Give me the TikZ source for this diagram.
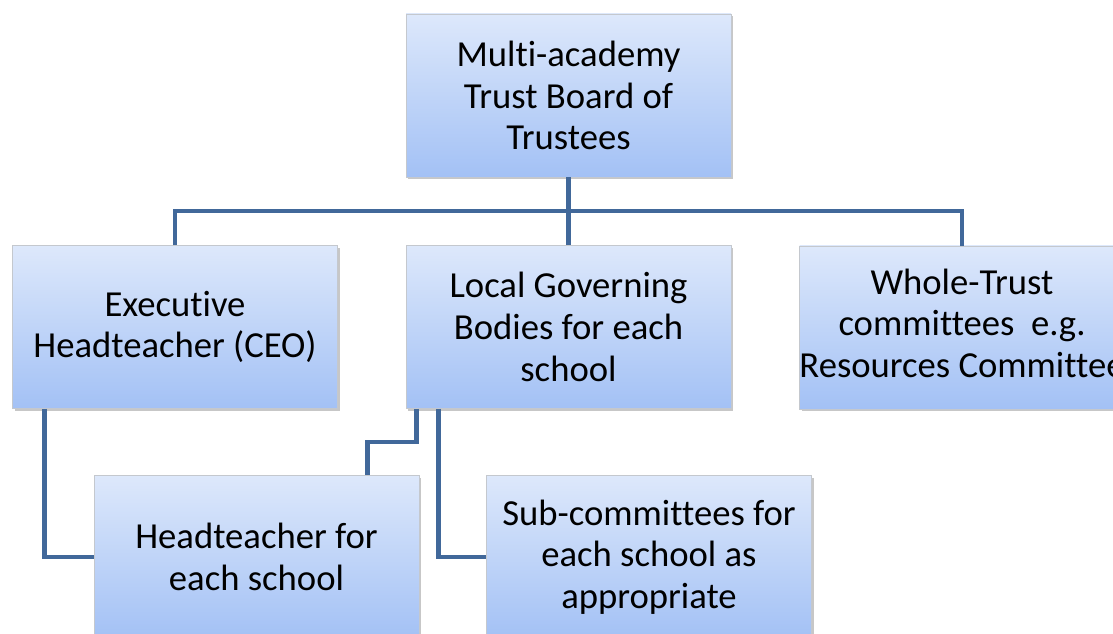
\documentclass[tikz,border=0pt]{standalone}
\usepackage{fontspec}
\setmainfont{Carlito}[Ligatures={NoCommon}]
\usetikzlibrary{shadows}
\definecolor{boxtop}{HTML}{DDE8FB}
\definecolor{boxbot}{HTML}{A3C1F5}
\definecolor{boxedge}{HTML}{C4C8CE}
\definecolor{linkblue}{HTML}{41689A}
\begin{document}
\begin{tikzpicture}[x=0.75pt,y=-0.75pt,
  orgbox/.style={rectangle, draw=boxedge, line width=0.6pt,
    top color=boxtop, bottom color=boxbot,
    minimum width=243.75pt, minimum height=122.25pt, inner sep=0pt,
    align=center, font=\fontsize{27.5}{31.2}\selectfont,
    drop shadow={shadow xshift=1.6pt, shadow yshift=-1.6pt, fill=black, opacity=0.22}},
  link/.style={draw=linkblue, line width=3.6pt, line cap=butt, line join=miter}]
\useasboundingbox (0,0) rectangle (1113,634);
\clip (0,0) rectangle (1113,634);

% boxes of the chart
\node[orgbox] (top)   at (568.5,95.5) {Multi-academy\\Trust Board of\\Trustees};
\node[orgbox] (exec)  at (175,327)    {Executive\\Headteacher (CEO)};
\node[orgbox] (lgb)   at (568.5,327)  {Local Governing\\Bodies for each\\school};
% the last line is wider than the box and runs out past the right edge
\node[orgbox] (whole) at (962,327.5)
  {\makebox[243.75pt]{\raisebox{-1.5pt}{\begin{tabular}{@{}c@{}}Whole-Trust\\committees\ \ e.g.\\Resources Committee\end{tabular}}}};
\node[orgbox] (head)  at (256.5,557)  {Headteacher for\\each school};
\node[orgbox] (sub)   at (649,557)    {Sub-committees for\\each school as\\appropriate};

% junction points of the connectors
\coordinate (bus) at (568.5,211);
\coordinate (jog) at (392,442);

% connectors
\draw[link] (top.south) -- (lgb.north);
\draw[link] (exec.north) |- (bus) -| (whole.north);
\draw[link] ([xshift=24pt]exec.south west) |- (head.west);
\draw[link] ([xshift=8.25pt]lgb.south west) |- (jog) -| ([xshift=205.5pt]head.north west);
\draw[link] ([xshift=24.75pt]lgb.south west) |- (sub.west);
\end{tikzpicture}
\end{document}
